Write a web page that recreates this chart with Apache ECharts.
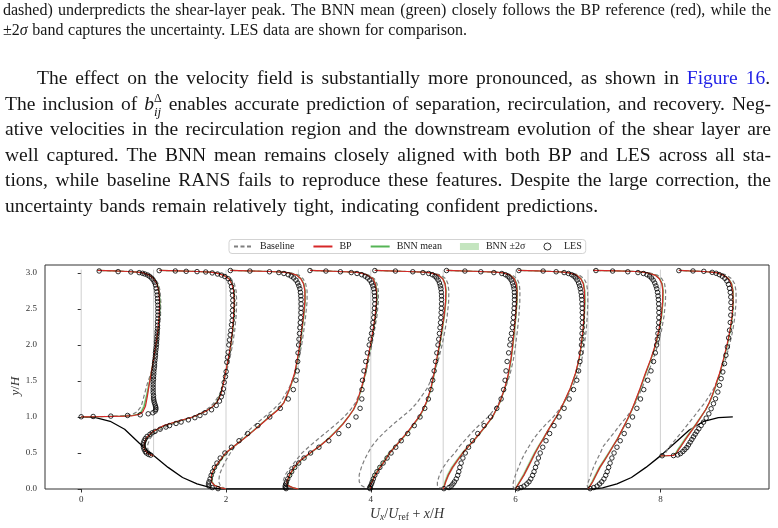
<!DOCTYPE html>
<html>
<head>
<meta charset="utf-8">
<script src="https://cdn.jsdelivr.net/npm/echarts@6/dist/echarts.min.js"></script>
<style>
  html, body { margin: 0; padding: 0; background: #fff; }
  #chart { width: 778px; height: 528px; }
</style>
</head>
<body>
<div id="chart"></div>
<script>
// ---- stations and geometry ----
const stationX = [0, 1, 2, 3, 4, 5, 6, 7, 8];
const wallY = [1.0, 0.46, 0, 0, 0, 0, 0, 0, 0.46];
const stationTop = 3.045;

const hillX = [0, 0.2, 0.4, 0.6, 0.8, 1.0, 1.2, 1.4, 1.6, 1.8, 1.93, 7.07, 7.2, 7.4, 7.6, 7.8, 8.0, 8.2, 8.4, 8.6, 8.8, 9.0];
const hillY = [1.0, 0.99, 0.94, 0.83, 0.64, 0.465, 0.3, 0.16, 0.07, 0.015, 0, 0, 0.015, 0.07, 0.16, 0.3, 0.46, 0.64, 0.82, 0.94, 0.99, 1.0];

// y/H levels of the RANS profiles
const yCrest = [1.0, 1.003, 1.007, 1.012, 1.02, 1.035, 1.07, 1.15, 1.3, 1.45, 1.6, 1.8, 2.0, 2.2, 2.4, 2.6, 2.75, 2.85, 2.92, 2.97, 3.0, 3.01, 3.02, 3.028, 3.035];
const yStation1 = [0.46, 0.48, 0.5, 0.55, 0.62, 0.7, 0.75, 0.79, 0.82, 0.88, 0.94, 1.0, 1.08, 1.14, 1.21, 1.32, 1.49, 1.6, 1.8, 2.0, 2.2, 2.4, 2.6, 2.75, 2.85, 2.92, 2.97, 3.0, 3.01, 3.02, 3.028, 3.035];
const yFlat = [0, 0.02, 0.05, 0.1, 0.2, 0.3, 0.4, 0.5, 0.6, 0.7, 0.8, 0.9, 1.0, 1.1, 1.2, 1.4, 1.6, 1.8, 2.0, 2.2, 2.4, 2.6, 2.75, 2.85, 2.92, 2.97, 3.0, 3.01, 3.02, 3.028, 3.035];
const yStation8 = [0.46, 0.462, 0.465, 0.5, 0.55, 0.6, 0.7, 0.8, 0.9, 1.0, 1.1, 1.2, 1.3, 1.4, 1.5, 1.6, 1.8, 2.0, 2.2, 2.4, 2.6, 2.75, 2.85, 2.92, 2.97, 3.0, 3.01, 3.02, 3.028, 3.035];
const profileY = [yCrest, yStation1, yFlat, yFlat, yFlat, yFlat, yFlat, yFlat, yStation8];

// U_x/U_ref per station
const baselineU = [
  [0, 0.15, 0.32, 0.48, 0.6, 0.7, 0.77, 0.83, 0.87, 0.91, 0.96, 1.005, 1.045, 1.075, 1.095, 1.1, 1.09, 1.065, 1.02, 0.955, 0.865, 0.79, 0.645, 0.45, 0.225],
  [0, -0.03, -0.05, -0.08, -0.08, -0.05, -0.01, 0.04, 0.09, 0.2, 0.37, 0.55, 0.7, 0.78, 0.845, 0.915, 0.97, 1.0, 1.05, 1.09, 1.12, 1.14, 1.148, 1.14, 1.115, 1.07, 0.985, 0.88, 0.8, 0.61, 0.35, 0.08],
  [0, -0.04, -0.08, -0.1, -0.09, -0.05, 0.0, 0.06, 0.13, 0.21, 0.3, 0.41, 0.53, 0.65, 0.75, 0.87, 0.955, 1.005, 1.045, 1.075, 1.1, 1.12, 1.12, 1.1, 1.065, 1.005, 0.9, 0.81, 0.61, 0.3, 0.06],
  [0, -0.1, -0.19, -0.215, -0.18, -0.11, -0.03, 0.05, 0.16, 0.28, 0.4, 0.52, 0.63, 0.72, 0.79, 0.875, 0.93, 0.975, 1.015, 1.05, 1.085, 1.105, 1.105, 1.085, 1.05, 0.97, 0.87, 0.79, 0.56, 0.35, 0.16],
  [0, -0.08, -0.13, -0.16, -0.16, -0.13, -0.09, -0.04, 0.02, 0.1, 0.2, 0.31, 0.43, 0.55, 0.64, 0.78, 0.87, 0.935, 0.985, 1.025, 1.055, 1.075, 1.078, 1.065, 1.035, 0.965, 0.855, 0.75, 0.51, 0.25, 0.056],
  [0, -0.05, -0.08, -0.08, -0.05, 0.0, 0.07, 0.16, 0.23, 0.32, 0.41, 0.51, 0.62, 0.7, 0.77, 0.86, 0.925, 0.97, 1.0, 1.025, 1.045, 1.058, 1.06, 1.05, 1.02, 0.955, 0.85, 0.74, 0.5, 0.25, 0.046],
  [0, -0.03, -0.04, -0.03, 0.0, 0.04, 0.08, 0.13, 0.19, 0.25, 0.33, 0.42, 0.52, 0.6, 0.67, 0.78, 0.86, 0.915, 0.95, 0.975, 0.99, 0.998, 0.995, 0.98, 0.945, 0.88, 0.775, 0.69, 0.52, 0.3, 0.035],
  [0, -0.01, -0.01, 0.005, 0.04, 0.075, 0.12, 0.17, 0.215, 0.295, 0.375, 0.45, 0.535, 0.605, 0.66, 0.745, 0.825, 0.9, 0.965, 1.015, 1.05, 1.07, 1.072, 1.058, 1.02, 0.955, 0.85, 0.78, 0.67, 0.4, 0.07],
  [0, 0.03, 0.05, 0.07, 0.1, 0.135, 0.22, 0.3, 0.38, 0.46, 0.535, 0.615, 0.68, 0.74, 0.785, 0.83, 0.9, 0.955, 1.0, 1.03, 1.045, 1.045, 1.025, 0.985, 0.91, 0.82, 0.72, 0.6, 0.4, 0.255]
];
const bpU = [
  [0, 0.2, 0.42, 0.6, 0.72, 0.8, 0.85, 0.888, 0.916, 0.939, 0.966, 0.999, 1.031, 1.059, 1.077, 1.082, 1.072, 1.045, 1.003, 0.939, 0.856, 0.78, 0.64, 0.45, 0.225],
  [0, -0.05, -0.085, -0.13, -0.13, -0.105, -0.06, -0.015, 0.03, 0.14, 0.33, 0.54, 0.72, 0.81, 0.88, 0.93, 0.97, 0.99, 1.03, 1.065, 1.09, 1.105, 1.113, 1.105, 1.08, 1.04, 0.96, 0.86, 0.78, 0.6, 0.35, 0.08],
  [0, -0.08, -0.16, -0.2, -0.2, -0.155, -0.08, -0.005, 0.12, 0.25, 0.37, 0.485, 0.6, 0.72, 0.8, 0.88, 0.945, 0.985, 1.02, 1.045, 1.07, 1.089, 1.089, 1.07, 1.033, 0.975, 0.87, 0.79, 0.6, 0.3, 0.06],
  [0, -0.08, -0.15, -0.16, -0.12, -0.06, 0.03, 0.16, 0.3, 0.42, 0.52, 0.615, 0.69, 0.76, 0.805, 0.87, 0.92, 0.957, 0.995, 1.03, 1.06, 1.078, 1.079, 1.06, 1.03, 0.95, 0.86, 0.78, 0.55, 0.35, 0.16],
  [0, -0.02, -0.01, 0.02, 0.065, 0.13, 0.2, 0.26, 0.345, 0.43, 0.515, 0.59, 0.665, 0.72, 0.765, 0.83, 0.872, 0.91, 0.947, 0.98, 1.011, 1.032, 1.036, 1.024, 0.993, 0.932, 0.83, 0.73, 0.5, 0.25, 0.056],
  [0, 0.01, 0.02, 0.035, 0.075, 0.13, 0.2, 0.27, 0.355, 0.445, 0.525, 0.605, 0.68, 0.73, 0.78, 0.85, 0.9, 0.935, 0.96, 0.98, 1.0, 1.015, 1.02, 1.01, 0.98, 0.925, 0.83, 0.72, 0.5, 0.25, 0.046],
  [0, 0.01, 0.03, 0.06, 0.12, 0.17, 0.22, 0.27, 0.325, 0.385, 0.44, 0.5, 0.56, 0.615, 0.665, 0.755, 0.825, 0.875, 0.905, 0.93, 0.945, 0.953, 0.95, 0.935, 0.9, 0.84, 0.74, 0.66, 0.5, 0.3, 0.035],
  [0, 0.015, 0.035, 0.065, 0.115, 0.165, 0.23, 0.29, 0.35, 0.41, 0.46, 0.51, 0.56, 0.605, 0.645, 0.72, 0.79, 0.865, 0.93, 0.978, 1.012, 1.03, 1.033, 1.02, 0.985, 0.925, 0.82, 0.76, 0.66, 0.4, 0.07],
  [0, 0.1, 0.18, 0.225, 0.255, 0.29, 0.355, 0.425, 0.495, 0.56, 0.625, 0.675, 0.715, 0.75, 0.78, 0.815, 0.87, 0.92, 0.96, 0.99, 1.003, 1.0, 0.98, 0.94, 0.87, 0.79, 0.7, 0.6, 0.4, 0.255]
];
const bnnMeanU = [
  [0, 0.19, 0.4, 0.58, 0.7, 0.78, 0.83, 0.87, 0.905, 0.935, 0.966, 1.0, 1.034, 1.063, 1.082, 1.087, 1.077, 1.05, 1.007, 0.942, 0.858, 0.78, 0.64, 0.45, 0.225],
  [0, -0.05, -0.083, -0.125, -0.125, -0.1, -0.055, -0.01, 0.035, 0.15, 0.34, 0.545, 0.72, 0.81, 0.875, 0.925, 0.968, 0.99, 1.032, 1.068, 1.094, 1.11, 1.118, 1.11, 1.085, 1.045, 0.965, 0.865, 0.785, 0.6, 0.35, 0.08],
  [0, -0.08, -0.155, -0.195, -0.195, -0.15, -0.075, 0.0, 0.12, 0.245, 0.365, 0.48, 0.595, 0.715, 0.8, 0.885, 0.95, 0.99, 1.025, 1.05, 1.075, 1.094, 1.094, 1.075, 1.037, 0.978, 0.872, 0.79, 0.6, 0.3, 0.06],
  [0, -0.08, -0.145, -0.155, -0.115, -0.055, 0.035, 0.165, 0.3, 0.415, 0.515, 0.61, 0.69, 0.76, 0.81, 0.875, 0.925, 0.962, 1.0, 1.035, 1.065, 1.083, 1.084, 1.065, 1.034, 0.953, 0.862, 0.78, 0.55, 0.35, 0.16],
  [0, -0.025, -0.015, 0.015, 0.06, 0.125, 0.195, 0.258, 0.345, 0.435, 0.52, 0.595, 0.67, 0.725, 0.77, 0.835, 0.877, 0.915, 0.952, 0.985, 1.016, 1.037, 1.041, 1.028, 0.997, 0.935, 0.832, 0.73, 0.5, 0.25, 0.056],
  [0, 0.005, 0.015, 0.03, 0.07, 0.125, 0.195, 0.268, 0.355, 0.445, 0.527, 0.607, 0.682, 0.733, 0.783, 0.853, 0.904, 0.939, 0.964, 0.985, 1.005, 1.02, 1.025, 1.015, 0.984, 0.928, 0.832, 0.72, 0.5, 0.25, 0.046],
  [0, 0.005, 0.025, 0.055, 0.115, 0.165, 0.215, 0.265, 0.322, 0.383, 0.44, 0.5, 0.562, 0.618, 0.668, 0.758, 0.828, 0.878, 0.91, 0.935, 0.95, 0.958, 0.955, 0.94, 0.904, 0.843, 0.742, 0.66, 0.5, 0.3, 0.035],
  [0, 0.01, 0.03, 0.06, 0.11, 0.16, 0.225, 0.287, 0.348, 0.41, 0.461, 0.512, 0.563, 0.608, 0.65, 0.725, 0.796, 0.87, 0.935, 0.983, 1.017, 1.035, 1.038, 1.025, 0.99, 0.93, 0.823, 0.76, 0.66, 0.4, 0.07],
  [0, 0.09, 0.17, 0.215, 0.245, 0.28, 0.348, 0.42, 0.492, 0.558, 0.625, 0.678, 0.72, 0.755, 0.786, 0.82, 0.875, 0.925, 0.965, 0.995, 1.008, 1.005, 0.985, 0.944, 0.873, 0.792, 0.7, 0.6, 0.4, 0.255]
];
// 2 sigma half-width of the BNN band
const bnn2Sigma = [
  [0, 0.01, 0.015, 0.02, 0.02, 0.02, 0.02, 0.02, 0.015, 0.012, 0.01, 0.008, 0.008, 0.008, 0.008, 0.008, 0.008, 0.008, 0.008, 0.008, 0.008, 0.006, 0.005, 0.004, 0.003],
  [0, 0.01, 0.012, 0.015, 0.015, 0.015, 0.015, 0.015, 0.018, 0.02, 0.02, 0.02, 0.018, 0.015, 0.012, 0.01, 0.008, 0.008, 0.008, 0.008, 0.008, 0.008, 0.008, 0.008, 0.008, 0.008, 0.008, 0.008, 0.006, 0.005, 0.004, 0.003],
  [0, 0.008, 0.012, 0.015, 0.018, 0.02, 0.02, 0.02, 0.02, 0.02, 0.018, 0.016, 0.014, 0.012, 0.011, 0.01, 0.009, 0.009, 0.009, 0.009, 0.009, 0.009, 0.009, 0.009, 0.009, 0.008, 0.006, 0.005, 0.004, 0.003, 0.002],
  [0, 0.008, 0.012, 0.016, 0.02, 0.022, 0.022, 0.02, 0.02, 0.018, 0.016, 0.015, 0.013, 0.012, 0.011, 0.01, 0.009, 0.009, 0.009, 0.009, 0.009, 0.009, 0.009, 0.009, 0.009, 0.008, 0.006, 0.005, 0.004, 0.003, 0.002],
  [0, 0.01, 0.014, 0.018, 0.022, 0.024, 0.024, 0.022, 0.02, 0.018, 0.016, 0.015, 0.013, 0.012, 0.011, 0.01, 0.01, 0.01, 0.01, 0.01, 0.01, 0.01, 0.01, 0.01, 0.009, 0.008, 0.006, 0.005, 0.004, 0.003, 0.002],
  [0, 0.01, 0.014, 0.018, 0.022, 0.024, 0.024, 0.022, 0.02, 0.018, 0.016, 0.015, 0.013, 0.012, 0.011, 0.01, 0.01, 0.01, 0.01, 0.01, 0.01, 0.01, 0.01, 0.01, 0.009, 0.008, 0.006, 0.005, 0.004, 0.003, 0.002],
  [0, 0.01, 0.014, 0.018, 0.02, 0.022, 0.022, 0.02, 0.018, 0.016, 0.015, 0.014, 0.013, 0.012, 0.011, 0.01, 0.01, 0.01, 0.01, 0.01, 0.01, 0.01, 0.01, 0.01, 0.009, 0.008, 0.006, 0.005, 0.004, 0.003, 0.002],
  [0, 0.01, 0.014, 0.018, 0.02, 0.02, 0.02, 0.018, 0.016, 0.015, 0.014, 0.013, 0.012, 0.011, 0.011, 0.01, 0.01, 0.01, 0.01, 0.01, 0.01, 0.01, 0.01, 0.01, 0.009, 0.008, 0.006, 0.005, 0.004, 0.003, 0.002],
  [0, 0.008, 0.012, 0.015, 0.018, 0.02, 0.02, 0.02, 0.018, 0.016, 0.014, 0.012, 0.011, 0.01, 0.01, 0.009, 0.009, 0.009, 0.009, 0.009, 0.009, 0.009, 0.009, 0.009, 0.008, 0.006, 0.005, 0.004, 0.003, 0.002]
];

// LES reference points
const lesYCrest = [1.003, 1.007, 1.012, 1.021, 1.03, 1.044, 1.058, 1.082, 1.105, 1.128, 1.151, 1.179, 1.207, 1.235, 1.263, 1.3, 1.337, 1.374, 1.411, 1.448, 1.486, 1.523, 1.56, 1.597, 1.634, 1.671, 1.708, 1.745, 1.783, 1.82, 1.857, 1.894, 1.931, 1.968, 2.006, 2.043, 2.08, 2.117, 2.154, 2.191, 2.228, 2.275, 2.321, 2.368, 2.414, 2.461, 2.507, 2.553, 2.6, 2.646, 2.693, 2.739, 2.786, 2.832, 2.869, 2.902, 2.929, 2.953, 2.971, 2.985, 2.995, 3.004, 3.013, 3.018, 3.027];
const lesYStation1 = [0.47, 0.48, 0.5, 0.52, 0.55, 0.58, 0.61, 0.64, 0.67, 0.7, 0.73, 0.76, 0.78, 0.8, 0.83, 0.86, 0.88, 0.91, 0.93, 0.96, 0.99, 1.02, 1.06, 1.1, 1.16, 1.22, 1.28, 1.33, 1.39, 1.48, 1.56, 1.63, 1.76, 1.83, 1.9, 2.0, 2.07, 2.14, 2.2, 2.28, 2.34, 2.41, 2.48, 2.55, 2.62, 2.69, 2.75, 2.81, 2.87, 2.92, 2.95, 2.97, 2.985, 3.0, 3.013, 3.018, 3.022, 3.027, 3.032];
const lesYFlat = [0.005, 0.02, 0.04, 0.07, 0.1, 0.14, 0.19, 0.24, 0.3, 0.36, 0.43, 0.5, 0.58, 0.67, 0.77, 0.88, 1.0, 1.12, 1.25, 1.38, 1.51, 1.64, 1.77, 1.89, 2.0, 2.08, 2.16, 2.24, 2.31, 2.38, 2.45, 2.51, 2.57, 2.63, 2.68, 2.73, 2.78, 2.82, 2.86, 2.9, 2.93, 2.955, 2.975, 2.992, 3.005, 3.016, 3.026, 3.033];
const lesYStation8 = [0.462, 0.464, 0.473, 0.492, 0.52, 0.548, 0.576, 0.613, 0.65, 0.687, 0.724, 0.761, 0.798, 0.836, 0.882, 0.928, 0.984, 1.044, 1.114, 1.184, 1.253, 1.346, 1.439, 1.532, 1.625, 1.741, 1.857, 1.973, 2.098, 2.205, 2.312, 2.414, 2.507, 2.591, 2.665, 2.73, 2.786, 2.841, 2.888, 2.925, 2.953, 2.976, 2.995, 3.008, 3.022, 3.027, 3.032];
const lesY = [lesYCrest, lesYStation1, lesYFlat, lesYFlat, lesYFlat, lesYFlat, lesYFlat, lesYFlat, lesYStation8];
const lesU = [
  [0.0, 0.165, 0.409, 0.64, 0.815, 0.925, 0.99, 1.022, 1.031, 1.031, 1.026, 1.017, 1.008, 1.003, 0.999, 0.999, 0.994, 0.994, 0.994, 0.994, 0.994, 0.999, 0.999, 1.003, 1.003, 1.008, 1.013, 1.013, 1.017, 1.022, 1.026, 1.026, 1.031, 1.036, 1.04, 1.04, 1.045, 1.045, 1.049, 1.049, 1.054, 1.054, 1.054, 1.059, 1.059, 1.059, 1.059, 1.059, 1.054, 1.054, 1.049, 1.045, 1.036, 1.026, 1.013, 0.994, 0.971, 0.944, 0.916, 0.879, 0.847, 0.801, 0.686, 0.51, 0.248],
  [-0.04, -0.07, -0.1, -0.115, -0.13, -0.14, -0.144, -0.14, -0.13, -0.115, -0.09, -0.05, -0.02, 0.02, 0.09, 0.17, 0.22, 0.31, 0.38, 0.48, 0.57, 0.64, 0.71, 0.8, 0.865, 0.91, 0.935, 0.95, 0.965, 0.975, 0.993, 1.002, 1.011, 1.021, 1.03, 1.039, 1.048, 1.058, 1.067, 1.076, 1.085, 1.09, 1.09, 1.094, 1.094, 1.09, 1.085, 1.076, 1.058, 1.03, 0.984, 0.938, 0.883, 0.81, 0.72, 0.6, 0.45, 0.3, 0.077],
  [-0.11, -0.19, -0.235, -0.242, -0.235, -0.22, -0.205, -0.185, -0.16, -0.125, -0.08, -0.015, 0.075, 0.18, 0.3, 0.44, 0.605, 0.75, 0.86, 0.93, 0.965, 0.985, 0.99, 0.995, 1.003, 1.008, 1.015, 1.02, 1.026, 1.032, 1.036, 1.038, 1.038, 1.037, 1.034, 1.028, 1.02, 1.006, 0.99, 0.965, 0.935, 0.9, 0.86, 0.8, 0.73, 0.6, 0.33, 0.06],
  [-0.17, -0.18, -0.183, -0.174, -0.164, -0.147, -0.121, -0.093, -0.051, 0.004, 0.078, 0.168, 0.284, 0.42, 0.558, 0.69, 0.796, 0.852, 0.876, 0.878, 0.885, 0.905, 0.93, 0.953, 0.978, 0.995, 1.01, 1.021, 1.03, 1.04, 1.047, 1.051, 1.055, 1.056, 1.053, 1.048, 1.04, 1.028, 1.01, 0.985, 0.955, 0.92, 0.875, 0.81, 0.73, 0.58, 0.38, 0.16],
  [-0.01, -0.015, -0.005, 0.01, 0.02, 0.035, 0.055, 0.085, 0.125, 0.17, 0.225, 0.28, 0.345, 0.42, 0.51, 0.6, 0.68, 0.745, 0.795, 0.83, 0.855, 0.875, 0.895, 0.912, 0.928, 0.938, 0.948, 0.956, 0.963, 0.968, 0.972, 0.975, 0.977, 0.978, 0.977, 0.974, 0.968, 0.96, 0.948, 0.93, 0.91, 0.885, 0.85, 0.8, 0.72, 0.58, 0.34, 0.056],
  [0.01, 0.08, 0.11, 0.135, 0.155, 0.18, 0.2, 0.215, 0.23, 0.248, 0.272, 0.305, 0.35, 0.405, 0.477, 0.565, 0.655, 0.74, 0.8, 0.835, 0.855, 0.868, 0.883, 0.904, 0.92, 0.93, 0.943, 0.955, 0.962, 0.97, 0.975, 0.98, 0.984, 0.985, 0.985, 0.983, 0.978, 0.97, 0.957, 0.94, 0.918, 0.893, 0.86, 0.81, 0.7, 0.52, 0.3, 0.046],
  [0.03, 0.075, 0.115, 0.155, 0.185, 0.21, 0.235, 0.255, 0.275, 0.295, 0.315, 0.34, 0.375, 0.42, 0.47, 0.53, 0.6, 0.67, 0.74, 0.8, 0.845, 0.87, 0.888, 0.902, 0.91, 0.914, 0.918, 0.92, 0.922, 0.922, 0.921, 0.92, 0.917, 0.914, 0.91, 0.903, 0.894, 0.884, 0.87, 0.85, 0.83, 0.805, 0.775, 0.73, 0.67, 0.56, 0.38, 0.045],
  [0.03, 0.08, 0.125, 0.16, 0.19, 0.22, 0.245, 0.265, 0.285, 0.305, 0.33, 0.36, 0.4, 0.445, 0.5, 0.555, 0.615, 0.675, 0.725, 0.77, 0.825, 0.87, 0.905, 0.93, 0.948, 0.958, 0.966, 0.972, 0.976, 0.978, 0.979, 0.978, 0.976, 0.972, 0.967, 0.96, 0.95, 0.938, 0.922, 0.9, 0.877, 0.85, 0.815, 0.765, 0.69, 0.55, 0.34, 0.11],
  [0.024, 0.181, 0.24, 0.277, 0.31, 0.337, 0.365, 0.388, 0.411, 0.434, 0.457, 0.48, 0.503, 0.531, 0.563, 0.595, 0.632, 0.669, 0.701, 0.733, 0.761, 0.793, 0.816, 0.839, 0.862, 0.885, 0.905, 0.925, 0.942, 0.955, 0.965, 0.972, 0.975, 0.975, 0.972, 0.965, 0.955, 0.94, 0.918, 0.89, 0.855, 0.815, 0.77, 0.715, 0.6, 0.45, 0.255]
];

const xTicks = [0, 2, 4, 6, 8];
const yTicks = [0, 0.5, 1.0, 1.5, 2.0, 2.5, 3.0];

// ---- page text above the figure ----
const SERIF = '"Liberation Serif", "Times New Roman", Times, serif';
const INK = '#161616';
const LINK = '#1f1fe6';
const specialWords = {
  '@pm2s': [{ t: '±2' }, { t: 'σ', italic: true }],
  '@bij': [{ t: 'b', italic: true }, { t: 'Δ', size: 12, dy: -8, stack: true }, { t: 'ij', italic: true, size: 13, dy: 6 }],
  '@Figure': [{ t: 'Figure', color: LINK }],
  '@16.': [{ t: '16', color: LINK }, { t: '.' }]
};
const textLines = [
  { size: 16, x0: 3, x1: 771, base: 16, text: 'dashed) underpredicts the shear-layer peak. The BNN mean (green) closely follows the BP reference (red), while the' },
  { size: 16, x0: 3, x1: 467, base: 36, text: '@pm2s band captures the uncertainty. LES data are shown for comparison.' },
  { size: 19.5, x0: 37, x1: 770, base: 85, text: 'The effect on the velocity field is substantially more pronounced, as shown in @Figure @16.' },
  { size: 19.5, x0: 5, x1: 771, base: 110.5, text: 'The inclusion of @bij enables accurate prediction of separation, recirculation, and recovery. Neg-' },
  { size: 19.5, x0: 5, x1: 771, base: 136, text: 'ative velocities in the recirculation region and the downstream evolution of the shear layer are' },
  { size: 19.5, x0: 5, x1: 771, base: 161.5, text: 'well captured. The BNN mean remains closely aligned with both BP and LES across all sta-' },
  { size: 19.5, x0: 5, x1: 771, base: 187, text: 'tions, while baseline RANS fails to reproduce these features. Despite the large correction, the' },
  { size: 19.5, x0: 5, x1: 598, base: 212.5, text: 'uncertainty bands remain relatively tight, indicating confident predictions.' }
];

const measureCtx = document.createElement('canvas').getContext('2d');
function runFont(r, size) {
  return (r.italic ? 'italic ' : '') + (r.size || size) + 'px ' + SERIF;
}
function layoutWord(word, size) {
  const runs = specialWords[word] || [{ t: word }];
  let x = 0, w = 0;
  const placed = runs.map(r => {
    const font = runFont(r, size);
    measureCtx.font = font;
    const rw = measureCtx.measureText(r.t).width;
    const p = { r, font, x };
    w = Math.max(w, x + rw);
    if (!r.stack) x += rw;
    return p;
  });
  return { placed, width: w };
}
function textElements() {
  const out = [];
  textLines.forEach(line => {
    const words = line.text.split(' ').map(w => layoutWord(w, line.size));
    const total = words.reduce((s, l) => s + l.width, 0);
    measureCtx.font = line.size + 'px ' + SERIF;
    const minGap = measureCtx.measureText(' ').width * 0.6;
    const avail = line.x1 - line.x0;
    let sx = 1;
    if (total + minGap * (words.length - 1) > avail) sx = (avail - minGap * (words.length - 1)) / total;
    const gap = (avail - total * sx) / (words.length - 1);
    let x = line.x0;
    words.forEach(l => {
      l.placed.forEach(p => {
        out.push({
          type: 'text', silent: true,
          x: x + p.x * sx,
          y: line.base - 0.3 * (p.r.size || line.size) + (p.r.dy || 0),
          scaleX: sx,
          style: { text: p.r.t, font: p.font, fill: p.r.color || INK, align: 'left', verticalAlign: 'middle' }
        });
      });
      x += l.width * sx + gap;
    });
  });
  return out;
}

// ---- chart ----
const chart = echarts.init(document.getElementById('chart'), null, { renderer: 'canvas', width: 778, height: 528 });

function profilePoints(i, u) {
  return profileY[i].map((y, k) => [stationX[i] + u[k], y]);
}

const series = [];
stationX.forEach((x0, i) => {
  series.push({
    type: 'line', data: [[x0, wallY[i]], [x0, stationTop]], symbol: 'none', silent: true, z: 1,
    lineStyle: { color: '#cfcfcf', width: 1 }
  });
});
series.push({
  type: 'line', data: hillX.map((x, k) => [x, hillY[k]]), symbol: 'none', silent: true, z: 2,
  lineStyle: { color: '#000', width: 1.3 }
});
series.push({
  type: 'custom', name: 'BNN ±2σ', z: 3, silent: true,
  itemStyle: { color: '#c4e5bf' },
  encode: { x: 0, y: 1 },
  data: stationX.map((x0, i) => [x0, wallY[i]]),
  renderItem: (params, api) => {
    const i = params.dataIndex;
    const ys = profileY[i], m = bnnMeanU[i], s = bnn2Sigma[i];
    const lo = ys.map((y, k) => api.coord([stationX[i] + m[k] - s[k], y]));
    const hi = ys.map((y, k) => api.coord([stationX[i] + m[k] + s[k], y])).reverse();
    return { type: 'polygon', shape: { points: lo.concat(hi) }, style: { fill: '#c4e5bf' } };
  }
});
stationX.forEach((x0, i) => {
  series.push({
    type: 'line', name: 'Baseline', data: profilePoints(i, baselineU[i]), symbol: 'none', z: 4,
    itemStyle: { color: '#7f7f7f' },
    lineStyle: { color: '#7f7f7f', width: 1.2, type: [4, 2.5] }
  });
});
stationX.forEach((x0, i) => {
  series.push({
    type: 'line', name: 'BNN mean', data: profilePoints(i, bnnMeanU[i]), symbol: 'none', z: 5,
    itemStyle: { color: '#55b455' },
    lineStyle: { color: '#55b455', width: 1.2 }
  });
});
stationX.forEach((x0, i) => {
  series.push({
    type: 'line', name: 'BP', data: profilePoints(i, bpU[i]), symbol: 'none', z: 6,
    itemStyle: { color: '#d62728' },
    lineStyle: { color: '#d62728', width: 1.2 }
  });
});
const lesPoints = [];
stationX.forEach((x0, i) => lesY[i].forEach((y, k) => lesPoints.push([x0 + lesU[i][k], y])));
series.push({
  type: 'scatter', name: 'LES', data: lesPoints, symbol: 'circle', symbolSize: 4.5, z: 7,
  itemStyle: { color: 'rgba(255,255,255,0)', borderColor: '#000', borderWidth: 1 }
});

const axisFont = { fontFamily: SERIF, fontSize: 9, color: '#333' };
const hiddenMarker = { opacity: 0 };

chart.setOption({
  animation: false,
  backgroundColor: '#fff',
  grid: {
    left: 45, right: 9, top: 265, bottom: 39,
    outerBoundsMode: 'none', containLabel: false,
    show: true, borderColor: '#333', borderWidth: 1, backgroundColor: 'transparent'
  },
  legend: {
    left: 229, top: 239.5,
    padding: [2, 4, 2, 4],
    itemWidth: 19, itemHeight: 7, itemGap: 18,
    backgroundColor: '#fff', borderColor: '#d3d3d3', borderWidth: 1, borderRadius: 3,
    textStyle: { fontFamily: SERIF, fontSize: 10, color: '#222', padding: [0, 0, 0, 2] },
    data: [
      { name: 'Baseline', itemStyle: hiddenMarker },
      { name: 'BP', itemStyle: hiddenMarker },
      { name: 'BNN mean', itemStyle: hiddenMarker },
      { name: 'BNN ±2σ', icon: 'rect' },
      { name: 'LES', icon: 'circle', itemStyle: { color: '#fff', borderColor: '#000', borderWidth: 1 } }
    ]
  },
  xAxis: {
    type: 'value', min: -0.5, max: 9.5,
    axisLine: { show: false },
    axisTick: { show: true, length: 3.5, customValues: xTicks, lineStyle: { color: '#333', width: 1 } },
    axisLabel: { customValues: xTicks, margin: 6, ...axisFont },
    splitLine: { show: false },
    name: '{i|U}{si|x}{n|/}{i|U}{sr|ref}{n| + }{i|x}{n|/}{i|H}',
    nameLocation: 'middle', nameGap: 17, nameMoveOverlap: false,
    nameTextStyle: {
      color: '#333',
      rich: {
        i: { fontFamily: SERIF, fontStyle: 'italic', fontSize: 14, lineHeight: 16, color: '#333' },
        n: { fontFamily: SERIF, fontSize: 14, lineHeight: 16, color: '#333' },
        si: { fontFamily: SERIF, fontStyle: 'italic', fontSize: 9.5, lineHeight: 10, verticalAlign: 'bottom', color: '#333' },
        sr: { fontFamily: SERIF, fontSize: 9.5, lineHeight: 10, verticalAlign: 'bottom', color: '#333' }
      }
    }
  },
  yAxis: {
    type: 'value', min: 0, max: 3.11,
    axisLine: { show: false },
    axisTick: { show: true, length: 3.5, customValues: yTicks, lineStyle: { color: '#333', width: 1 } },
    axisLabel: { customValues: yTicks, margin: 8, formatter: v => v.toFixed(1), ...axisFont },
    splitLine: { show: false },
    name: '{i|y}{n|/}{i|H}',
    nameLocation: 'middle', nameGap: 23, nameRotate: 90, nameMoveOverlap: false,
    nameTextStyle: {
      color: '#333', padding: [0, 18, 0, 0],
      rich: {
        i: { fontFamily: SERIF, fontStyle: 'italic', fontSize: 13, color: '#333' },
        n: { fontFamily: SERIF, fontSize: 13, color: '#333' }
      }
    }
  },
  graphic: { elements: textElements() },
  series: series
});
</script>
</body>
</html>
